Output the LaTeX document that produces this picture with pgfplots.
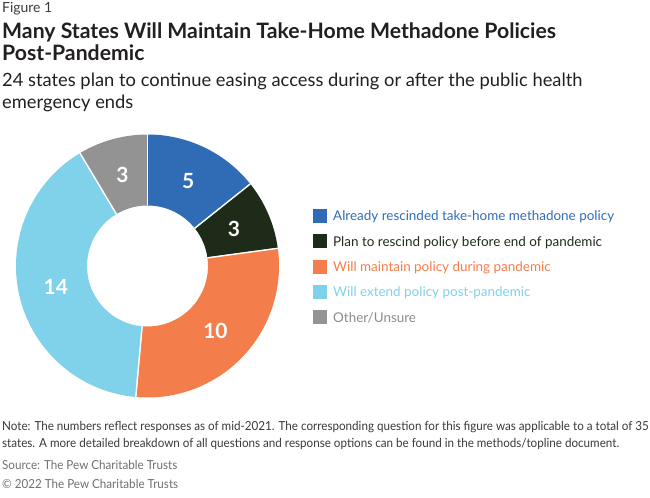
\documentclass[border=0pt]{standalone}
\usepackage{fontspec}
\setmainfont{Lato}
\newfontfamily\notefont[FakeStretch=0.935]{Lato}
\usepackage{pgfplots}
\pgfplotsset{compat=1.18}
\usepackage{pgfplotstable}

\definecolor{cBlue}{HTML}{306CB5}
\definecolor{cDark}{HTML}{1F2B19}
\definecolor{cOrange}{HTML}{F47E4B}
\definecolor{cLight}{HTML}{80D1EA}
\definecolor{cGray}{HTML}{939393}
\definecolor{cGrayText}{HTML}{8C8C8C}
\definecolor{cTitle}{HTML}{231F20}
\definecolor{cNote}{HTML}{3A3A3A}
\definecolor{cSource}{HTML}{707070}

% states per response
\pgfplotstableread{
value col
5  cBlue
3  cDark
10 cOrange
14 cLight
3  cGray
}\piedata

\tikzset{
  slicelabel/.style={text=white, inner sep=0pt, font=\bfseries\fontsize{21}{21}\selectfont},
  txt/.style={anchor=base west, inner sep=0pt},
  leg/.style={anchor=base west, inner sep=0pt, font=\fontsize{13.5}{13.5}\selectfont},
}

\begin{document}
\begin{tikzpicture}
\begin{axis}[
  x=1bp, y=1bp,
  xmin=0, xmax=650, ymin=0, ymax=498,
  scale only axis, hide axis, clip=false,
]
\coordinate (BL) at (axis cs:0,0);
\coordinate (TR) at (axis cs:650,498);

% donut
\def\cx{147.5}\def\cy{232}\def\ro{131.5}\def\ri{60.5}\def\rl{94}
\def\total{0}
\pgfplotsforeachungrouped \row in {0,...,4}{%
  \pgfplotstablegetelem{\row}{value}\of\piedata
  \pgfmathsetmacro\total{\total+\pgfplotsretval}%
}
\def\acc{0}
\pgfplotsforeachungrouped \row in {0,...,4}{%
  \pgfplotstablegetelem{\row}{value}\of\piedata \let\sliceval\pgfplotsretval
  \pgfplotstablegetelem{\row}{col}\of\piedata \let\slicecol\pgfplotsretval
  \pgfmathsetmacro\aS{90-\acc*360/\total}%
  \pgfmathsetmacro\acc{\acc+\sliceval}%
  \pgfmathsetmacro\aE{90-\acc*360/\total}%
  \pgfmathsetmacro\aM{(\aS+\aE)/2}%
  \pgfmathsetmacro\xo{\cx+\ro*cos(\aS)}%
  \pgfmathsetmacro\yo{\cy+\ro*sin(\aS)}%
  \pgfmathsetmacro\xe{\cx+\ro*cos(\aE)}%
  \pgfmathsetmacro\ye{\cy+\ro*sin(\aE)}%
  \pgfmathsetmacro\xi{\cx+\ri*cos(\aE)}%
  \pgfmathsetmacro\yi{\cy+\ri*sin(\aE)}%
  \pgfmathsetmacro\xs{\cx+\ri*cos(\aS)}%
  \pgfmathsetmacro\ys{\cy+\ri*sin(\aS)}%
  \pgfmathsetmacro\xl{\cx+\rl*cos(\aM)}%
  \pgfmathsetmacro\yl{\cy+\rl*sin(\aM)}%
  \edef\temp{%
    \noexpand\fill[\slicecol] (axis cs:\xo,\yo) arc[start angle=\aS, end angle=\aE, radius=\ro bp]
      -- (axis cs:\xi,\yi) arc[start angle=\aE, end angle=\aS, radius=\ri bp] -- cycle;
    \noexpand\draw[white, line width=1.3bp] (axis cs:\xs,\ys) -- (axis cs:\xo,\yo);
    \noexpand\draw[white, line width=1.3bp] (axis cs:\xi,\yi) -- (axis cs:\xe,\ye);
    \noexpand\node[slicelabel] at (axis cs:\xl,\yl) {\sliceval};
  }\temp
}

% key
\fill[cBlue]   (axis cs:313,275.0) rectangle (axis cs:327,289.0);
\fill[cDark]   (axis cs:313,249.7) rectangle (axis cs:327,263.7);
\fill[cOrange] (axis cs:313,224.4) rectangle (axis cs:327,238.4);
\fill[cLight]  (axis cs:313,199.1) rectangle (axis cs:327,213.1);
\fill[cGray]   (axis cs:313,173.8) rectangle (axis cs:327,187.8);
\node[leg, text=cBlue]     at (axis cs:333,277.0) {Already rescinded take-home methadone policy};
\node[leg, text=cDark]     at (axis cs:333,251.7) {Plan to rescind policy before end of pandemic};
\node[leg, text=cOrange]   at (axis cs:333,226.4) {Will maintain policy during pandemic};
\node[leg, text=cLight]    at (axis cs:333,201.1) {Will extend policy post-pandemic};
\node[leg, text=cGrayText] at (axis cs:333,175.8) {Other/Unsure};

% titles
\node[txt, text=cNote, font=\fontsize{14}{14}\selectfont] at (axis cs:2,485.3) {Figure 1};
\node[txt, text=cTitle, font=\bfseries\fontsize{21.3}{21.3}\selectfont] at (axis cs:2,459) {Many States Will Maintain Take-Home Methadone Policies};
\node[txt, text=cTitle, font=\bfseries\fontsize{21.3}{21.3}\selectfont] at (axis cs:2,437) {Post-Pandemic};
\node[txt, text=cTitle, font=\fontsize{18.4}{18.4}\selectfont] at (axis cs:2,411.3) {24 states plan to continue easing access during or after the public health};
\node[txt, text=cTitle, font=\fontsize{18.4}{18.4}\selectfont] at (axis cs:2,389.7) {emergency ends};

% notes
\node[txt, text=cNote, font=\notefont\fontsize{12.5}{12.5}\selectfont] at (axis cs:2,67.3) {Note: The numbers reflect responses as of mid-2021. The corresponding question for this figure was applicable to a total of 35};
\node[txt, text=cNote, font=\notefont\fontsize{12.5}{12.5}\selectfont] at (axis cs:2,50.7) {states. A more detailed breakdown of all questions and response options can be found in the methods/topline document.};
\node[txt, text=cSource, font=\notefont\fontsize{12.5}{12.5}\selectfont] at (axis cs:2,28) {Source: The Pew Charitable Trusts};
\node[txt, text=cSource, font=\notefont\fontsize{12.5}{12.5}\selectfont] at (axis cs:2,9) {© 2022 The Pew Charitable Trusts};
\end{axis}
\pgfresetboundingbox
\path[use as bounding box] (BL) rectangle (TR);
\end{tikzpicture}
\end{document}
